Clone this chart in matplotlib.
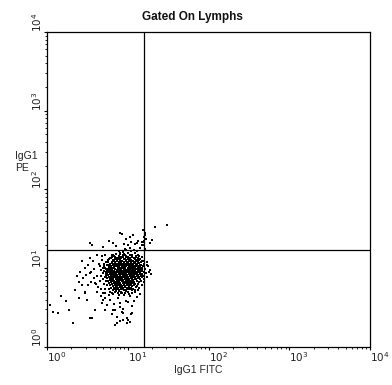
import numpy as np
import matplotlib
matplotlib.use('Agg')
import matplotlib.pyplot as plt

# Datos en canales (0-1023, escala log de 4 decadas, 256 canales por decada)
CH_PER_DECADE = 256.0

# nucleo denso del cluster (FITC, PE)
core_pts = [
    (228, 297), (236, 294), (241, 299), (249, 296), (256, 293), (263, 298),
    (216, 291), (223, 288), (229, 292), (234, 289), (240, 291), (246, 287), (252, 292), (258, 290),
    (264, 288), (270, 291), (276, 289),
    (210, 283), (217, 285), (222, 282), (228, 286), (233, 284), (239, 281), (245, 285), (250, 283),
    (256, 286), (261, 282), (267, 284), (273, 281), (279, 285), (286, 283),
    (205, 277), (211, 279), (216, 276), (222, 280), (227, 277), (232, 275), (238, 279), (243, 277),
    (249, 280), (254, 276), (259, 278), (265, 275), (270, 279), (276, 277), (282, 280), (289, 276),
    (200, 271), (206, 273), (212, 270), (217, 274), (223, 271), (228, 269), (234, 273), (239, 271),
    (245, 274), (250, 270), (256, 272), (261, 269), (267, 273), (272, 271), (278, 274), (284, 270),
    (291, 272),
    (198, 266), (204, 264), (210, 267), (215, 265), (221, 263), (226, 267), (232, 265), (237, 262),
    (243, 266), (248, 264), (254, 267), (259, 263), (265, 266), (270, 264), (276, 262), (281, 266),
    (287, 264), (294, 266),
    (195, 259), (201, 261), (207, 258), (213, 260), (218, 262), (224, 258), (229, 260), (235, 257),
    (240, 261), (246, 259), (251, 262), (257, 258), (262, 260), (268, 257), (273, 261), (279, 259),
    (285, 262), (290, 258), (295, 260),
    (192, 253), (198, 255), (204, 252), (210, 256), (215, 253), (221, 251), (226, 255), (232, 253),
    (237, 256), (243, 252), (248, 254), (254, 251), (259, 255), (265, 253), (270, 256), (276, 252),
    (281, 254), (287, 251), (292, 255), (297, 253),
    (190, 247), (196, 249), (202, 246), (207, 250), (213, 247), (218, 245), (224, 249), (229, 247),
    (235, 250), (240, 246), (246, 248), (251, 245), (257, 249), (262, 247), (268, 250), (273, 246),
    (279, 248), (284, 245), (290, 249), (296, 247),
    (191, 241), (197, 243), (203, 240), (208, 244), (214, 241), (219, 239), (225, 243), (230, 241),
    (236, 244), (241, 240), (247, 242), (252, 239), (258, 243), (263, 241), (269, 244), (274, 240),
    (280, 242), (285, 239), (291, 243), (296, 241),
    (193, 235), (199, 237), (205, 234), (210, 238), (216, 235), (221, 233), (227, 237), (232, 235),
    (238, 238), (243, 234), (249, 236), (254, 233), (260, 237), (265, 235), (271, 238), (276, 234),
    (282, 236), (288, 233), (294, 237),
    (196, 229), (202, 231), (208, 228), (213, 232), (219, 229), (224, 227), (230, 231), (235, 229),
    (241, 232), (246, 228), (252, 230), (257, 227), (263, 231), (268, 229), (274, 232), (279, 228),
    (285, 230), (292, 228),
    (199, 223), (205, 225), (210, 222), (216, 226), (221, 223), (227, 221), (232, 225), (238, 223),
    (243, 226), (249, 222), (254, 224), (260, 221), (265, 225), (271, 223), (276, 226), (282, 222),
    (289, 224),
    (201, 217), (207, 219), (213, 216), (218, 220), (224, 217), (229, 215), (235, 219), (240, 217),
    (246, 220), (251, 216), (257, 218), (262, 215), (268, 219), (273, 217), (279, 220), (286, 216),
    (204, 211), (210, 213), (216, 210), (221, 214), (227, 211), (232, 209), (238, 213), (243, 211),
    (249, 214), (254, 210), (260, 212), (265, 209), (271, 213), (277, 211), (284, 213),
    (206, 205), (212, 207), (218, 204), (223, 208), (229, 205), (234, 203), (240, 207), (245, 205),
    (251, 208), (256, 204), (262, 206), (267, 203), (273, 207), (279, 205),
    (209, 199), (215, 201), (221, 198), (226, 202), (232, 199), (237, 197), (243, 201), (248, 199),
    (254, 202), (259, 198), (265, 200), (270, 197), (275, 201),
    (211, 193), (218, 195), (224, 192), (230, 196), (236, 193), (242, 191), (248, 195), (253, 193),
    (259, 196), (265, 192),
    (214, 187), (221, 189), (228, 186), (235, 190), (242, 187), (249, 185), (256, 189), (262, 187),
    (219, 181), (227, 183), (235, 180), (243, 184), (251, 181),
]

# borde irregular del nucleo
edge_pts = [
    (186, 244), (184, 256), (188, 236), (181, 248), (189, 268), (192, 277), (194, 284), (198, 286),
    (203, 290), (207, 294), (213, 297), (219, 301), (233, 301), (247, 300), (268, 296), (281, 292),
    (288, 288), (293, 282), (297, 276), (299, 268), (301, 258), (302, 251), (300, 238), (298, 230),
    (296, 222), (293, 212), (290, 205), (286, 199), (281, 194), (273, 190), (268, 184), (258, 180),
    (247, 176), (238, 177), (225, 176), (214, 180), (208, 186), (204, 193), (200, 200), (196, 208),
    (193, 216), (190, 224), (188, 231),
    (176, 258), (172, 232), (178, 220), (190, 200), (196, 190), (200, 180), (210, 172), (228, 168),
    (260, 172), (278, 178), (290, 186), (306, 220), (309, 244), (305, 278), (300, 292), (292, 296),
    (180, 270), (168, 262), (318, 268), (322, 244), (330, 236), (316, 276),
]

# halo alrededor del nucleo
halo_pts = [
    (182, 262), (178, 240), (185, 228), (170, 250), (165, 270), (175, 284), (160, 232), (150, 255),
    (168, 215), (180, 205), (155, 205), (140, 245), (130, 265), (145, 278), (175, 296), (185, 300),
    (188, 275), (186, 214), (172, 190), (160, 180), (150, 225), (138, 210), (125, 235), (120, 258),
    (110, 280), (135, 290), (158, 300), (187, 252), (184, 190), (176, 175),
    (300, 280), (304, 262), (301, 246), (305, 232), (298, 215), (302, 200), (292, 192), (296, 285),
    (310, 255), (314, 240), (308, 270), (320, 262), (300, 226), (306, 210), (290, 300), (283, 296),
    (318, 228), (325, 250),
    (220, 302), (232, 306), (245, 303), (258, 305), (270, 300), (280, 305), (240, 310), (252, 314),
    (228, 312), (265, 311), (275, 316), (210, 298), (200, 290), (205, 300), (262, 322), (286, 312),
    (295, 322), (248, 320),
]

# eventos por encima de la linea horizontal
upper_pts = [
    (143, 333), (178, 326), (209, 339), (231, 372), (238, 368), (245, 335), (256, 330), (265, 342),
    (280, 336), (290, 345), (300, 332), (311, 365), (315, 350), (273, 365), (285, 338), (300, 340),
    (327, 339), (333, 349), (342, 391), (380, 395), (136, 339), (220, 328), (198, 345), (250, 352),
    (262, 358), (305, 380), (310, 372), (308, 358), (309, 330), (309, 345), (310, 318), (308, 340),
]

# eventos por debajo del nucleo
lower_pts = [
    (216, 121), (257, 88), (241, 111), (268, 132), (231, 143), (200, 153), (178, 153), (184, 176),
    (170, 165), (257, 147), (285, 163), (275, 150), (295, 172), (226, 160), (245, 170), (262, 165),
    (136, 241), (152, 209), (162, 196), (120, 179), (184, 160), (206, 176), (174, 143), (212, 140),
    (231, 130), (209, 121), (222, 98), (254, 95), (152, 121), (127, 153), (195, 168), (235, 175),
    (250, 150), (270, 176), (280, 185), (190, 135), (240, 125), (265, 108), (205, 108), (230, 85),
    (143, 95), (216, 72), (241, 88), (263, 82), (254, 78), (269, 111), (238, 114), (184, 121),
    (136, 95), (222, 78),
]

# cola hacia abajo a la izquierda
tail_pts = [
    (10, 137), (19, 114), (35, 111), (82, 78), (101, 212), (111, 202), (120, 176), (60, 150),
    (90, 185), (130, 200), (100, 160), (70, 120), (45, 165), (115, 225), (105, 245), (95, 230),
]

# cuadrantes (canales)
quad_x_ch = 309
quad_y_ch = 314

decades = [0, 1, 2, 3, 4]
tick_labels = ['$10^{0}$', '$10^{1}$', '$10^{2}$', '$10^{3}$', '$10^{4}$']

title = 'Gated On Lymphs'
x_label = 'IgG1 FITC'
y_label = 'IgG1\nPE'

W, H = 392, 385
fig = plt.figure(figsize=(W / 100, H / 100), dpi=100)
ax = fig.add_axes([47 / W, 1 - 347 / H, 323 / W, 315 / H])

pts = np.array(core_pts + edge_pts + halo_pts + upper_pts + lower_pts + tail_pts, dtype=float)
xs = 10 ** (pts[:, 0] / CH_PER_DECADE)
ys = 10 ** (pts[:, 1] / CH_PER_DECADE)
ax.scatter(xs, ys, s=1.6, marker='s', c='black', linewidths=0)

qx = 10 ** (quad_x_ch / CH_PER_DECADE)
qy = 10 ** (quad_y_ch / CH_PER_DECADE)
ax.axvline(qx, color='black', lw=0.9)
ax.axhline(qy, color='black', lw=0.9)

ax.set_xscale('log')
ax.set_yscale('log')
ax.set_xlim(1, 1e4)
ax.set_ylim(1, 1e4)

for sp in ax.spines.values():
    sp.set_linewidth(0.9)

txt_color = '#222222'
fam = ['Liberation Sans', 'DejaVu Sans']

ax.set_xticks([10 ** d for d in decades])
ax.set_xticklabels(tick_labels)
ax.set_yticks([10 ** d for d in decades])
ax.set_yticklabels(tick_labels)
ax.tick_params(which='major', length=2, width=0.8, direction='out',
               labelsize=7.5, labelcolor=txt_color)
ax.tick_params(which='minor', length=1.3, width=0.6, direction='out')
ax.tick_params(axis='x', pad=0)
ax.tick_params(axis='y', pad=0.5)
for lab in ax.get_xticklabels():
    lab.set_horizontalalignment('left')
    lab.set_family(fam)
for lab in ax.get_yticklabels():
    lab.set_rotation(90)
    lab.set_verticalalignment('bottom')
    lab.set_family(fam)
ax.xaxis.set_minor_formatter(plt.NullFormatter())
ax.yaxis.set_minor_formatter(plt.NullFormatter())

fig.text(192 / W, 1 - 17 / H, title, ha='center', va='center', fontsize=8.5,
         fontweight='bold', family=['Liberation Sans Narrow', 'Liberation Sans'], color='#111111')
fig.text(198 / W, 1 - 370 / H, x_label, ha='center', va='center', fontsize=7.5,
         family=fam, color=txt_color)
fig.text(15 / W, 1 - 162 / H, y_label, ha='left', va='center', fontsize=7.5,
         family=fam, color=txt_color, linespacing=1.35)

fig.savefig('out.png', dpi=100)
